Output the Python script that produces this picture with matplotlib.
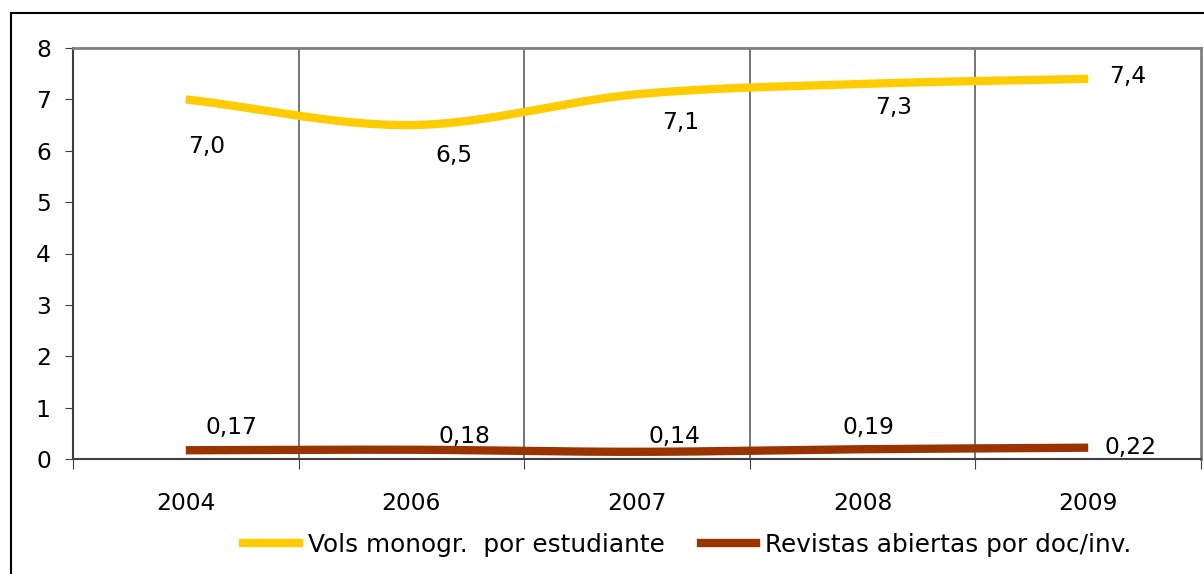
import numpy as np
import matplotlib
matplotlib.use("Agg")
import matplotlib.pyplot as plt
from matplotlib.patches import Rectangle
from matplotlib.lines import Line2D

plt.rcParams['font.family'] = ['DejaVu Sans']

years = ["2004", "2006", "2007", "2008", "2009"]
vols = [7.0, 6.5, 7.1, 7.3, 7.4]
revistas = [0.17, 0.18, 0.14, 0.19, 0.22]
vols_labels = ["7,0", "6,5", "7,1", "7,3", "7,4"]
rev_labels = ["0,17", "0,18", "0,14", "0,19", "0,22"]
series_names = ["Vols monogr.  por estudiante", "Revistas abiertas por doc/inv."]

# label offsets in pixels (style)
vols_off = [(21, -47), (42, -30), (44, -28), (31, -24), (40, 2)]
rev_off = [(46, 23), (53, 13), (38, 15), (6, 22), (42, 0)]

YELLOW = "#FFCC00"
BROWN = "#993300"
FS = 16.8
LFS = 17.8

W, H = 1204, 574
fig = plt.figure(figsize=(W / 100, H / 100), dpi=100)
fig.patch.set_facecolor("white")
# outer chart border
fig.add_artist(Rectangle((11 / W, -0.05), 1.1, 1 - 13 / H + 0.05, transform=fig.transFigure,
                         fill=False, edgecolor="black", linewidth=1.5))

ax = fig.add_axes([73 / W, (H - 459) / H, 1128 / W, 411 / H])


def catmull(xs, ys, n=40):
    P = np.column_stack([xs, ys]).astype(float)
    P = np.vstack([P[0] - (P[1] - P[0]), P, P[-1] + (P[-1] - P[-2])])
    out = []
    for i in range(1, len(P) - 2):
        p0, p1, p2, p3 = P[i - 1], P[i], P[i + 1], P[i + 2]
        t = np.linspace(0, 1, n)[:, None]
        seg = 0.5 * ((2 * p1) + (-p0 + p2) * t + (2 * p0 - 5 * p1 + 4 * p2 - p3) * t ** 2 +
                     (-p0 + 3 * p1 - 3 * p2 + p3) * t ** 3)
        out.append(seg)
    out = np.vstack(out)
    return out[:, 0], out[:, 1]


x = np.arange(len(years)) + 0.5

sx, sy = catmull(x, vols)
ax.plot(sx, sy, color=YELLOW, lw=6, solid_capstyle="butt", zorder=3)
sx, sy = catmull(x, revistas)
ax.plot(sx, sy, color=BROWN, lw=6, solid_capstyle="butt", zorder=3)

for xi, v, lab, off in zip(x, vols, vols_labels, vols_off):
    ax.annotate(lab, (xi, v), xytext=(off[0] * 0.72, off[1] * 0.72), textcoords="offset points",
                ha="center", va="center", fontsize=FS, color="black", zorder=5)
for xi, v, lab, off in zip(x, revistas, rev_labels, rev_off):
    ax.annotate(lab, (xi, v), xytext=(off[0] * 0.72, off[1] * 0.72), textcoords="offset points",
                ha="center", va="center", fontsize=FS, color="black", zorder=5)

ax.set_xlim(0, len(years))
ax.set_ylim(0, 8)
ax.set_yticks(range(0, 9))
ax.set_xticks(range(0, len(years) + 1))
ax.set_xticklabels([])
ax.set_xticks(x, minor=True)
ax.set_xticklabels(years, minor=True)
ax.tick_params(axis="x", which="minor", length=0, pad=24, labelsize=FS)
ax.tick_params(axis="x", which="major", length=7, direction="out", color="#404040")
ax.tick_params(axis="y", length=6, direction="out", labelsize=FS, pad=10, color="#404040")

for xv in range(1, len(years)):
    ax.axvline(xv, color="#505050", lw=1.1, zorder=2)

for s in ["top", "right"]:
    ax.spines[s].set_color("#808080")
    ax.spines[s].set_linewidth(2)
ax.spines["left"].set_color("#404040")
ax.spines["bottom"].set_color("#404040")
ax.spines["left"].set_linewidth(1.5)
ax.spines["bottom"].set_linewidth(1.5)

handles = [Line2D([], [], color=YELLOW, lw=6), Line2D([], [], color=BROWN, lw=6)]
fig.legend(handles, series_names, loc="center", bbox_to_anchor=(0.571, (H - 545) / H), ncol=2,
           frameon=False, fontsize=LFS, handlelength=2.25, handletextpad=0.36, columnspacing=1.45,
           borderpad=0, borderaxespad=0)

fig.savefig("out.png", dpi=100, facecolor="white")
